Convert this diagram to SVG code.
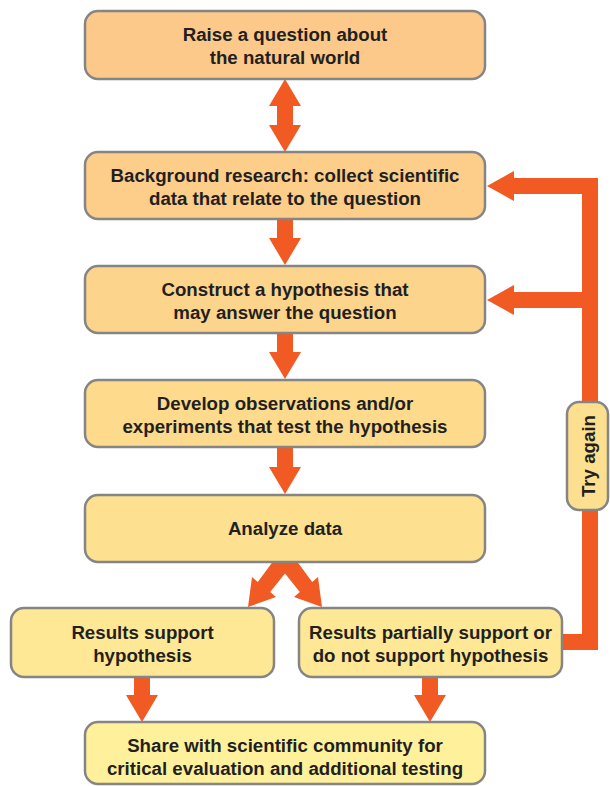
<svg xmlns="http://www.w3.org/2000/svg" width="610" height="786" viewBox="0 0 610 786">
<style>
.box{stroke:#858585;stroke-width:2.5}
.t{font-family:"Liberation Sans",Arial,sans-serif;font-weight:bold;font-size:18.7px;fill:#231F20;text-anchor:middle}
.ar{fill:#F15A22}
.ln{fill:none;stroke:#F15A22;stroke-width:16;stroke-linejoin:miter}
</style>
<rect width="610" height="786" fill="#fff"/>
<g id="connectors">
<polygon class="ar" points="285,79 301,106 293,106 293,125 301,125 285,152 269,125 277,125 277,106 269,106"/>
<polygon class="ar" points="277,219 293,219 293,238 301,238 285,265 269,238 277,238"/>
<polygon class="ar" points="277,333 293,333 293,352 301,352 285,379 269,352 277,352"/>
<polygon class="ar" points="277,447 293,447 293,467 301,467 285,494 269,467 277,467"/>
<polygon class="ar" points="274,560 296,560 312.2,582 318,577 322,607 294,597 299.8,592 285,573.5 270.2,592 276,597 248,607 252,577 257.8,582"/>
<polygon class="ar" points="134,677 150,677 150,695 158,695 142,722 126,695 134,695"/>
<polygon class="ar" points="422,677 438,677 438,695 446,695 430,722 414,695 422,695"/>
<path class="ln" d="M560 642 H590 V178"/>
<path class="ln" d="M598 186 H512"/>
<path class="ln" d="M590 300 H512"/>
<polygon class="ar" points="487,186 514,171 514,201"/>
<polygon class="ar" points="487,300 514,285 514,315"/>
</g>
<g id="n1"><rect class="box" x="85" y="11" width="400" height="68" rx="13" fill="#FCC98B"/>
<text class="t" x="285" y="41">Raise a question about</text><text class="t" x="285" y="64">the natural world</text></g>
<g id="n2"><rect class="box" x="85" y="152" width="400" height="67" rx="13" fill="#FDCD8A"/>
<text class="t" x="285" y="182">Background research: collect scientific</text><text class="t" x="285" y="205">data that relate to the question</text></g>
<g id="n3"><rect class="box" x="85" y="266" width="400" height="67" rx="13" fill="#FDD48B"/>
<text class="t" x="285" y="295.5">Construct a hypothesis that</text><text class="t" x="285" y="318.5">may answer the question</text></g>
<g id="n4"><rect class="box" x="85" y="380" width="400" height="67" rx="13" fill="#FDDA8C"/>
<text class="t" x="285" y="409.5">Develop observations and/or</text><text class="t" x="285" y="432.5">experiments that test the hypothesis</text></g>
<g id="n5"><rect class="box" x="85" y="495" width="400" height="67" rx="13" fill="#FDE190"/>
<text class="t" x="285" y="535">Analyze data</text></g>
<g id="n6"><rect class="box" x="11" y="608" width="263" height="69" rx="13" fill="#FEE795"/>
<text class="t" x="142.5" y="638.5">Results support</text><text class="t" x="142.5" y="661.5">hypothesis</text></g>
<g id="n7"><rect class="box" x="299" y="608" width="263" height="69" rx="13" fill="#FEE795"/>
<text class="t" x="430.5" y="638.5">Results partially support or</text><text class="t" x="430.5" y="661.5">do not support hypothesis</text></g>
<g id="n8"><rect class="box" x="85" y="722" width="400" height="62" rx="13" fill="#FFF19C"/>
<text class="t" x="285" y="752">Share with scientific community for</text><text class="t" x="285" y="775">critical evaluation and additional testing</text></g>
<g id="n9"><rect class="box" x="567" y="402" width="41" height="108" rx="12" fill="#FDE08F"/>
<text class="t" x="0" y="0" transform="translate(595 456) rotate(-90)">Try again</text></g>
</svg>
